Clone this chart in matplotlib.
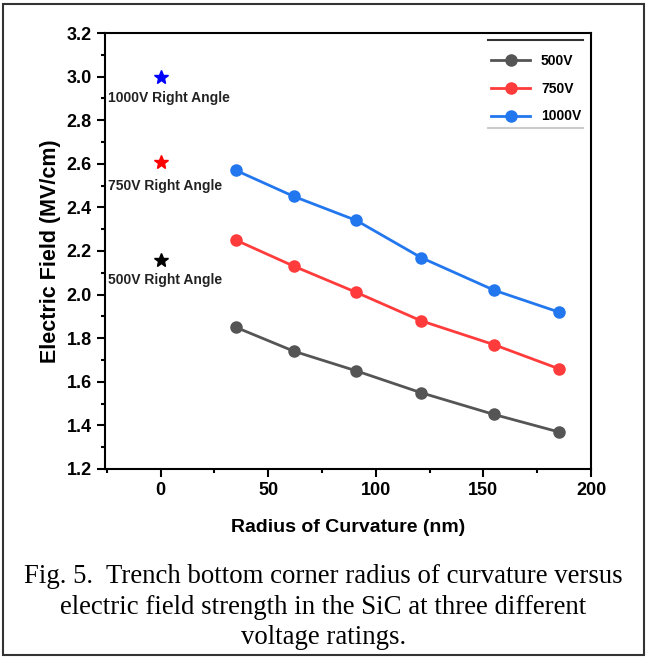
import matplotlib.pyplot as plt
from matplotlib.lines import Line2D
from matplotlib.patches import Rectangle
from matplotlib.ticker import MultipleLocator

radius = [35, 62, 91, 121, 155, 185]
field_500 = [1.85, 1.74, 1.65, 1.55, 1.45, 1.37]
field_750 = [2.25, 2.13, 2.01, 1.88, 1.77, 1.66]
field_1000 = [2.57, 2.45, 2.34, 2.17, 2.02, 1.92]

right_angle_x = [0, 0, 0]
right_angle_field = [2.16, 2.61, 3.0]
right_angle_labels = ['500V Right Angle', '750V Right Angle', '1000V Right Angle']
right_angle_label_y = [2.065, 2.50, 2.90]
right_angle_colors = ['black', 'red', 'blue']

caption = ('Fig. 5.  Trench bottom corner radius of curvature versus\n'
           'electric field strength in the SiC at three different\n'
           'voltage ratings.')

plt.rcParams['font.family'] = ['Liberation Sans', 'DejaVu Sans']

fig = plt.figure(figsize=(6.47, 6.60), dpi=100)
ax = fig.add_axes([0.1623, 0.2894, 0.7512, 0.6606])

ax.plot(radius, field_500, '-o', color='#555555', lw=2, ms=8, label='500V')
ax.plot(radius, field_750, '-o', color='#ff3b3b', lw=2, ms=8, label='750V')
ax.plot(radius, field_1000, '-o', color='#2277ee', lw=2, ms=8, label='1000V')

for x, y, c in zip(right_angle_x, right_angle_field, right_angle_colors):
    ax.plot(x, y, marker='*', color=c, ms=10, ls='none')
for lab, y in zip(right_angle_labels, right_angle_label_y):
    ax.text(-24.4, y, lab, fontsize=10, fontweight='bold', va='center', ha='left', color='#222222')

ax.set_xlim(-25.8, 200)
ax.set_ylim(1.2, 3.2)
ax.xaxis.set_major_locator(MultipleLocator(50))
ax.xaxis.set_minor_locator(MultipleLocator(25))
ax.yaxis.set_major_locator(MultipleLocator(0.2))
ax.yaxis.set_minor_locator(MultipleLocator(0.1))
ax.tick_params(which='both', direction='out', width=1.5)
ax.tick_params(which='major', length=6, labelsize=13)
ax.tick_params(which='minor', length=3)
for lab in ax.get_xticklabels() + ax.get_yticklabels():
    lab.set_fontweight('bold')
for s in ax.spines.values():
    s.set_linewidth(1.5)

ax.set_xlabel('Radius of Curvature (nm)', fontsize=14, fontweight='bold', labelpad=14)
ax.set_ylabel('Electric Field (MV/cm)', fontsize=15.5, fontweight='bold', labelpad=4)

leg = ax.legend(loc='upper right', bbox_to_anchor=(1.0, 0.975), frameon=False,
                prop={'weight': 'bold', 'size': 10}, handlelength=2.8,
                labelspacing=1.0, borderaxespad=0.3)
ax.add_line(Line2D([0.788, 0.984], [0.984, 0.984], transform=ax.transAxes, color='#333333', lw=1.5))
ax.add_line(Line2D([0.788, 0.984], [0.782, 0.782], transform=ax.transAxes, color='#cccccc', lw=1.5))

fig.text(0.5, 0.080, caption, ha='center', va='center', fontsize=19.3,
         family=['Liberation Serif'], linespacing=1.3)

fig.patches.append(Rectangle((0.005, 0.008), 0.99, 0.986, transform=fig.transFigure,
                             fill=False, edgecolor='#333333', lw=1.5))

fig.savefig('out.png', dpi=100)
